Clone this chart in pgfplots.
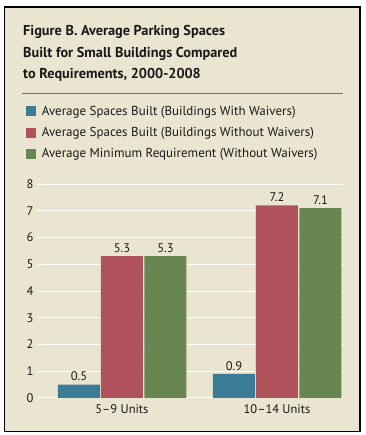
\documentclass[border=0pt]{standalone}
\usepackage{fontspec}
\setmainfont{PT Sans}
\usepackage{pgfplots}
\pgfplotsset{compat=1.18}
\definecolor{bg}{RGB}{234,229,208}
\definecolor{cblue}{RGB}{58,124,150}
\definecolor{cred}{RGB}{176,82,92}
\definecolor{cgreen}{RGB}{103,134,82}
\definecolor{sepcol}{RGB}{90,120,128}
\definecolor{txt}{RGB}{25,25,25}
\begin{document}
\begin{tikzpicture}
\fill[white] (0pt,0pt) rectangle (365pt,435pt);
\filldraw[fill=bg, draw=black, line width=1.2pt] (4.5pt,3.5pt) rectangle (360pt,428pt);
\node[anchor=base west, inner sep=0, font=\fontsize{14.3}{17}\selectfont\bfseries, text=txt] at (23pt,399pt) {Figure B. Average Parking Spaces};
\node[anchor=base west, inner sep=0, font=\fontsize{14.3}{17}\selectfont\bfseries, text=txt] at (23pt,377.5pt) {Built for Small Buildings Compared};
\node[anchor=base west, inner sep=0, font=\fontsize{14.3}{17}\selectfont\bfseries, text=txt] at (23pt,356pt) {to Requirements, 2000-2008};
\draw[sepcol, line width=0.6pt] (22pt,342pt) -- (343pt,342pt);
\begin{axis}[
  at={(37pt,37pt)}, anchor=south west,
  scale only axis, width=306pt, height=214pt,
  xmin=-0.548, xmax=1.426, ymin=0, ymax=8,
  axis line style={draw=none},
  ytick={0,...,8}, xtick={0,1},
  xticklabels={5--9 Units, 10--14 Units},
  major tick length=0pt,
  ymajorgrids, grid style={white, line width=1pt},
  tick label style={font=\fontsize{12.5}{14}\selectfont, text=txt},
  xticklabel style={yshift=-3pt},
  /pgf/number format/assume math mode=true,
  ybar, bar width=42pt,
  nodes near coords,
  nodes near coords style={font=\fontsize{12.5}{14}\selectfont, text=txt, /pgf/number format/fixed, /pgf/number format/precision=1, /pgf/number format/fixed zerofill},
  legend style={at={(-0.037,1.37)}, anchor=north west, draw=none, fill=none, inner sep=0pt,
     font=\fontsize{13}{15}\selectfont, text=txt, row sep=8.5pt, nodes={inner sep=1pt},
     /tikz/every odd column/.append style={column sep=5pt}},
  legend cell align=left,
  legend image code/.code={\fill[#1, draw=none] (0pt,-5pt) rectangle (10pt,5pt);},
  clip=false,
]
\addplot[fill=cblue, draw=none, bar shift=-43pt] coordinates {(0,0.5) (1,0.9)};
\addplot[fill=cred, draw=none, bar shift=0pt] coordinates {(0,5.3) (1,7.2)};
\addplot[fill=cgreen, draw=none, bar shift=43.5pt] coordinates {(0,5.3) (1,7.1)};
\legend{Average Spaces Built (Buildings With Waivers), Average Spaces Built (Buildings Without Waivers), Average Minimum Requirement (Without Waivers)}
\end{axis}
\end{tikzpicture}
\end{document}
